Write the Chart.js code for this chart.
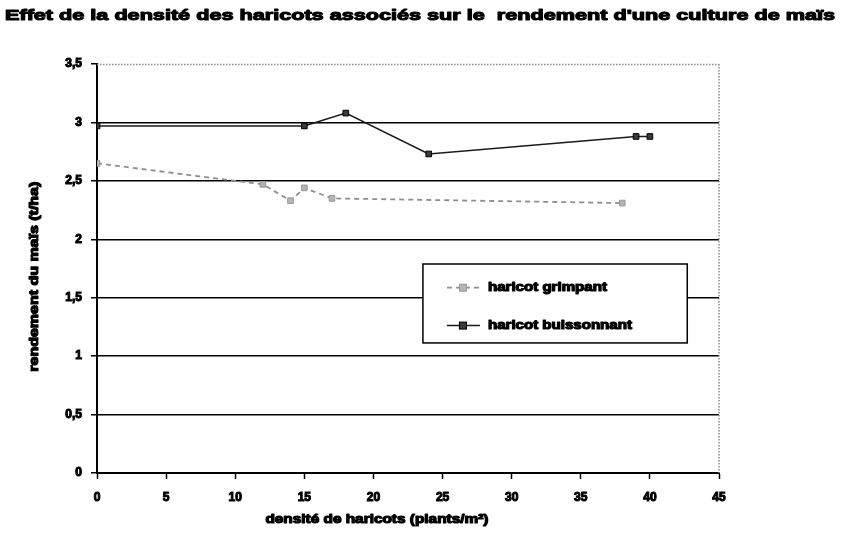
<!DOCTYPE html>
<html lang="fr">
<head>
<meta charset="utf-8">
<title>Effet de la densité des haricots associés sur le rendement d'une culture de maïs</title>
<script src="https://cdn.jsdelivr.net/npm/chart.js@4.4.1/dist/chart.umd.min.js"></script>
<style>
  html, body { margin: 0; padding: 0; background: #fff; }
  #wrap { width: 844px; height: 541px; }
</style>
</head>
<body>
<div id="wrap"><canvas id="c" width="844" height="541"></canvas></div>
<script>
// Rendement du maïs (t/ha) selon la densité de haricots associés (plants/m²)
const titre = "Effet de la densité des haricots associés sur le  rendement d'une culture de maïs";
const titreX = "densité de haricots (plants/m²)";
const titreY = "rendement du maïs (t/ha)";

const nomGrimpant = "haricot grimpant";
const densiteGrimpant = [0, 12, 14, 15, 17, 38];
const rendementGrimpant = [2.65, 2.47, 2.33, 2.44, 2.35, 2.31];

const nomBuissonnant = "haricot buissonnant";
const densiteBuissonnant = [0, 15, 18, 24, 39, 40];
const rendementBuissonnant = [2.97, 2.97, 3.08, 2.73, 2.88, 2.88];

const ticksX = [0, 5, 10, 15, 20, 25, 30, 35, 40, 45];
const ticksY = [0, 0.5, 1, 1.5, 2, 2.5, 3, 3.5];

const police = '"Liberation Sans", Arial, sans-serif';
Chart.defaults.font.family = police;
Chart.defaults.color = '#000';

const points = (xs, ys) => xs.map((x, i) => ({ x, y: ys[i] }));

// heavy text, stretched to a given width
function texteLarge(ctx, txt, font, x, y, largeur, rot, align) {
  ctx.save();
  ctx.font = font;
  const w = ctx.measureText(txt).width;
  ctx.translate(x, y);
  if (rot) ctx.rotate(rot);
  ctx.scale(largeur / w, 1);
  ctx.textAlign = align || 'center';
  ctx.textBaseline = 'middle';
  ctx.fillStyle = '#000';
  ctx.strokeStyle = '#000';
  ctx.lineWidth = 1.1;
  ctx.lineJoin = 'round';
  ctx.strokeText(txt, 0, 0);
  ctx.fillText(txt, 0, 0);
  ctx.restore();
}

const habillage = {
  id: 'habillage',
  beforeDraw(chart) {
    const { ctx, width, height } = chart;
    ctx.save();
    ctx.fillStyle = '#fff';
    ctx.fillRect(0, 0, width, height);
    ctx.restore();
  },
  beforeDatasetsDraw(chart) {
    const { ctx, chartArea: a } = chart;
    // dotted frame on top and right of the plot
    ctx.save();
    ctx.strokeStyle = '#8c8c8c';
    ctx.lineWidth = 1.5;
    ctx.setLineDash([1.5, 1.5]);
    ctx.beginPath();
    ctx.moveTo(a.left, a.top + 0.5);
    ctx.lineTo(a.right, a.top + 0.5);
    ctx.moveTo(a.right, a.top);
    ctx.lineTo(a.right, a.bottom);
    ctx.stroke();
    ctx.restore();
  },
  afterDraw(chart) {
    const { ctx, chartArea: a } = chart;
    // titles
    texteLarge(ctx, titre, 'bold 15px ' + police, 420, 16, 830);
    texteLarge(ctx, titreX, 'bold 12px ' + police, a.left + (a.right - a.left) * 0.45, 520, 223);
    texteLarge(ctx, titreY, 'bold 12px ' + police, 35, a.top + (a.bottom - a.top) * 0.52, 190, -Math.PI / 2);

    // legend box
    const lx = a.left + (a.right - a.left) * 0.524;
    const rx = a.left + (a.right - a.left) * 0.949;
    const ty = a.top + (a.bottom - a.top) * 0.489;
    const by = a.top + (a.bottom - a.top) * 0.682;
    ctx.save();
    ctx.fillStyle = '#fff';
    ctx.fillRect(lx, ty, rx - lx, by - ty);
    ctx.strokeStyle = '#000';
    ctx.lineWidth = 1.5;
    ctx.strokeRect(lx, ty, rx - lx, by - ty);
    const rows = [ty + (by - ty) * 0.30, ty + (by - ty) * 0.78];
    chart.data.datasets.forEach((ds, i) => {
      const yy = rows[i];
      ctx.save();
      ctx.strokeStyle = ds.borderColor;
      ctx.lineWidth = ds.borderWidth;
      ctx.setLineDash(ds.borderDash || []);
      ctx.beginPath();
      ctx.moveTo(lx + 24, yy);
      ctx.lineTo(lx + 57, yy);
      ctx.stroke();
      ctx.setLineDash([]);
      ctx.fillStyle = ds.pointBackgroundColor;
      ctx.strokeStyle = ds.pointBorderColor;
      ctx.lineWidth = 1;
      ctx.fillRect(lx + 36.5, yy - 3.5, 7, 7);
      ctx.strokeRect(lx + 36.5, yy - 3.5, 7, 7);
      ctx.restore();
      const w = ds.label === nomGrimpant ? 119 : 144;
      ctx.save();
      ctx.font = 'bold 12px ' + police;
      const mw = ctx.measureText(ds.label).width;
      ctx.translate(lx + 65, yy);
      ctx.scale(w / mw, 1);
      ctx.textBaseline = 'middle';
      ctx.fillStyle = '#000';
      ctx.strokeStyle = '#000';
      ctx.lineWidth = 1.1;
      ctx.lineJoin = 'round';
      ctx.strokeText(ds.label, 0, 0);
      ctx.fillText(ds.label, 0, 0);
      ctx.restore();
    });
    ctx.restore();
  }
};

new Chart(document.getElementById('c'), {
  type: 'line',
  data: {
    datasets: [
      {
        label: nomGrimpant,
        data: points(densiteGrimpant, rendementGrimpant),
        borderColor: '#8f8f8f',
        borderWidth: 1.8,
        borderDash: [5, 4],
        pointStyle: 'rect',
        pointRadius: 4,
        pointBackgroundColor: '#b4b4b4',
        pointBorderColor: '#999',
        pointBorderWidth: 1,
        tension: 0
      },
      {
        label: nomBuissonnant,
        data: points(densiteBuissonnant, rendementBuissonnant),
        borderColor: '#1a1a1a',
        borderWidth: 1.6,
        pointStyle: 'rect',
        pointRadius: 4,
        pointBackgroundColor: '#3a3a3a',
        pointBorderColor: '#000',
        pointBorderWidth: 1,
        tension: 0
      }
    ]
  },
  options: {
    responsive: false,
    animation: false,
    layout: { padding: { top: 64, right: 125, left: 0, bottom: 0 } },
    plugins: {
      legend: { display: false },
      title: { display: false },
      tooltip: { enabled: false }
    },
    scales: {
      x: {
        type: 'linear',
        min: ticksX[0],
        max: ticksX[ticksX.length - 1],
        afterBuildTicks: s => { s.ticks = ticksX.map(v => ({ value: v })); },
        afterFit: s => { s.height = 68; },
        grid: { drawOnChartArea: false, drawTicks: true, tickLength: 6, tickColor: '#000', tickWidth: 1.5 },
        border: { display: true, color: '#000', width: 2 },
        ticks: { padding: 11, font: { size: 12, weight: 'bold' }, color: '#000', textStrokeColor: '#000', textStrokeWidth: 1, maxRotation: 0 }
      },
      y: {
        type: 'linear',
        min: ticksY[0],
        max: ticksY[ticksY.length - 1],
        afterBuildTicks: s => { s.ticks = ticksY.map(v => ({ value: v })); },
        afterFit: s => { s.width = 97; },
        grid: {
          color: c => (c.tick && c.tick.value === ticksY[ticksY.length - 1]) || (c.tick && c.tick.value === 0) ? 'rgba(0,0,0,0)' : '#000',
          lineWidth: 1.5,
          drawTicks: true,
          tickLength: 6,
          tickColor: '#000',
          tickWidth: 1.5
        },
        border: { display: true, color: '#000', width: 2 },
        ticks: {
          padding: 9,
          font: { size: 12, weight: 'bold' },
          color: '#000',
          textStrokeColor: '#000',
          textStrokeWidth: 1,
          callback: v => String(v).replace('.', ',')
        }
      }
    }
  },
  plugins: [habillage]
});
</script>
</body>
</html>
